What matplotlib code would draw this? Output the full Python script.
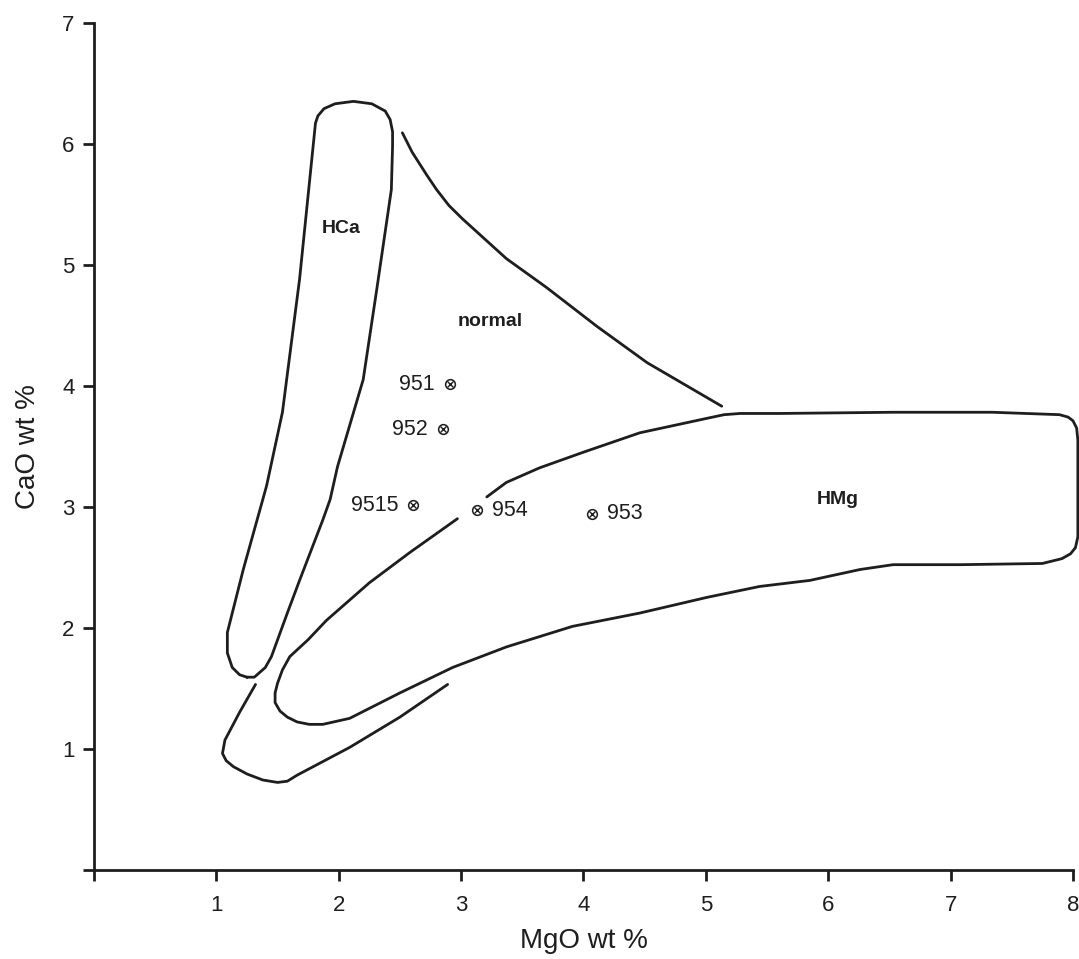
import matplotlib
matplotlib.use("Agg")
import matplotlib.pyplot as plt

plt.rcParams['font.family'] = ['Liberation Sans', 'DejaVu Sans']

# field outlines (MgO, CaO)
hca_x = [1.25, 1.19, 1.13, 1.09, 1.09, 1.22, 1.41, 1.54, 1.68, 1.81, 1.83, 1.88, 1.97,
         2.12, 2.27, 2.38, 2.42, 2.44, 2.44, 2.43, 2.31, 2.20, 1.99, 1.93, 1.87, 1.68,
         1.58, 1.45, 1.40, 1.31, 1.25]
hca_y = [1.59, 1.61, 1.67, 1.79, 1.96, 2.48, 3.17, 3.78, 4.88, 6.17, 6.23, 6.29, 6.33,
         6.35, 6.33, 6.27, 6.20, 6.10, 5.98, 5.62, 4.79, 4.05, 3.33, 3.06, 2.89, 2.39,
         2.12, 1.76, 1.67, 1.59, 1.59]

normal_x = [2.52, 2.60, 2.72, 2.80, 2.90, 3.01, 3.37, 3.70, 4.11, 4.52, 5.13]
normal_y = [6.09, 5.93, 5.74, 5.62, 5.49, 5.38, 5.05, 4.81, 4.49, 4.19, 3.83]

hmg_x = [3.21, 3.37, 3.64, 4.00, 4.46, 5.01, 5.15, 5.28, 5.60, 6.53, 7.34, 7.89, 7.96,
         8.00, 8.03, 8.04, 8.04, 8.04, 8.02, 7.98, 7.91, 7.75, 7.08, 6.53, 6.26, 5.85,
         5.44, 5.01, 4.46, 3.91, 3.37, 2.93, 2.50, 2.09, 1.87, 1.76, 1.66, 1.58, 1.52,
         1.48, 1.48, 1.50, 1.54, 1.60, 1.75, 1.90, 2.25, 2.58, 2.97]
hmg_y = [3.08, 3.20, 3.32, 3.45, 3.61, 3.73, 3.76, 3.77, 3.77, 3.78, 3.78, 3.76, 3.74,
         3.71, 3.65, 3.55, 3.06, 2.75, 2.66, 2.61, 2.57, 2.53, 2.52, 2.52, 2.48, 2.39,
         2.34, 2.25, 2.12, 2.01, 1.84, 1.67, 1.46, 1.25, 1.20, 1.20, 1.22, 1.26, 1.31,
         1.38, 1.46, 1.54, 1.65, 1.76, 1.90, 2.06, 2.37, 2.62, 2.90]

lower_x = [1.32, 1.19, 1.07, 1.05, 1.08, 1.14, 1.25, 1.38, 1.50, 1.58, 1.66, 2.09, 2.50, 2.89]
lower_y = [1.53, 1.30, 1.07, 0.96, 0.90, 0.85, 0.79, 0.74, 0.72, 0.73, 0.78, 1.01, 1.26, 1.53]

# samples
samples = ['951', '952', '9515', '954', '953']
mgo = [2.91, 2.85, 2.61, 3.13, 4.07]
cao = [4.01, 3.64, 3.01, 2.97, 2.94]
label_side = ['left', 'left', 'left', 'right', 'right']

fields = ['HCa', 'normal', 'HMg']
field_x = [2.02, 3.24, 6.08]
field_y = [5.30, 4.53, 3.06]

ink = '#1e1e1e'

fig = plt.figure(figsize=(10.79, 9.59), dpi=100)
ax = fig.add_axes([0.0871, 0.0933, 0.9073, 0.883])

for xs, ys in [(hca_x, hca_y), (normal_x, normal_y), (hmg_x, hmg_y), (lower_x, lower_y)]:
    ax.plot(xs, ys, color=ink, lw=2.0, solid_joinstyle='round',
            solid_capstyle='round', clip_on=False)

ax.plot(mgo, cao, 'o', ms=7, mfc='none', mec=ink, mew=1.1, clip_on=False)
ax.plot(mgo, cao, 'x', ms=4.2, mec=ink, mew=1.0, clip_on=False)

for name, x, y, side in zip(samples, mgo, cao, label_side):
    if side == 'left':
        ax.annotate(name, (x, y), xytext=(-11, 0), textcoords='offset points',
                    ha='right', va='center', fontsize=15.5, color=ink)
    else:
        ax.annotate(name, (x, y), xytext=(11, 0), textcoords='offset points',
                    ha='left', va='center', fontsize=15.5, color=ink)

for name, x, y in zip(fields, field_x, field_y):
    ax.text(x, y, name, ha='center', va='center', fontsize=14,
            fontweight='bold', color=ink)

ax.set_xlim(0, 8)
ax.set_ylim(0, 7)
ax.set_xticks(range(0, 9))
ax.set_xticklabels([''] + [str(i) for i in range(1, 9)])
ax.set_yticks(range(0, 8))
ax.set_yticklabels([''] + [str(i) for i in range(1, 8)])
ax.tick_params(axis='x', direction='out', length=8, width=2, pad=10,
               labelsize=16, colors=ink)
ax.tick_params(axis='y', direction='out', length=8, width=2, pad=6,
               labelsize=16, colors=ink)

for side in ['top', 'right']:
    ax.spines[side].set_visible(False)
for side in ['left', 'bottom']:
    ax.spines[side].set_linewidth(2)
    ax.spines[side].set_color(ink)

ax.set_xlabel('MgO wt %', fontsize=20, color=ink, labelpad=9)
ax.set_ylabel('CaO wt %', fontsize=20, color=ink, labelpad=15)

fig.savefig('out.png', dpi=100)
